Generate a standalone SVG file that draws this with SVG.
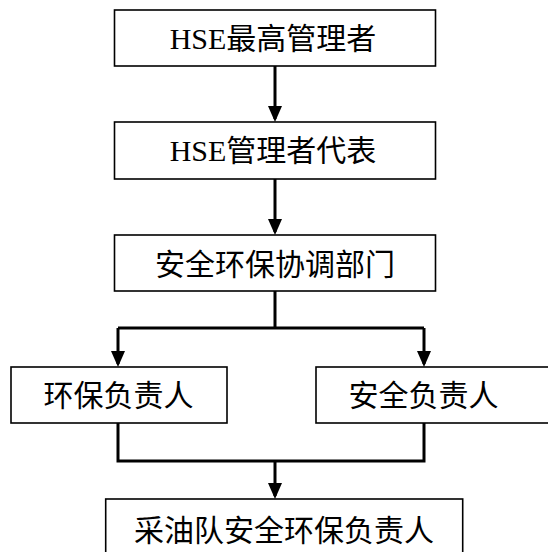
<svg xmlns="http://www.w3.org/2000/svg" width="548" height="552" viewBox="0 0 548 552">
<style>
.box{fill:#fff;stroke:#000;stroke-width:1.6}
.lbl{font-family:"Liberation Serif","Noto Sans CJK SC",serif;font-size:30px;fill:#000;text-anchor:middle}
.con{fill:none;stroke:#000;stroke-width:3}
.arr{marker-end:url(#ah)}
</style>
<defs>
<marker id="ah" markerUnits="userSpaceOnUse" markerWidth="16" markerHeight="16" refX="13" refY="8" orient="auto" viewBox="0 0 16 16">
<path d="M0,1 L16,8 L0,15 Z" fill="#000"/>
</marker>
</defs>
<rect width="548" height="552" fill="#fff"/>
<g id="connectors">
<path class="con arr" d="M275,66 V119"/>
<path class="con arr" d="M275,179 V232"/>
<path class="con" d="M275,291 V328 M118,328 H424"/>
<path class="con arr" d="M118,328 V364"/>
<path class="con arr" d="M424,328 V364"/>
<path class="con" d="M118,423 V461 H424 V423"/>
<path class="con arr" d="M275,461 V496"/>
</g>
<g id="n1"><rect class="box" x="114.5" y="10" width="321" height="56"/><text class="lbl" x="273" y="49">HSE最高管理者</text></g>
<g id="n2"><rect class="box" x="114.5" y="122" width="321" height="57"/><text class="lbl" x="273" y="161">HSE管理者代表</text></g>
<g id="n3"><rect class="box" x="114.5" y="235" width="321" height="56"/><text class="lbl" x="275" y="275">安全环保协调部门</text></g>
<g id="n4"><rect class="box" x="11" y="367" width="216" height="56"/><text class="lbl" x="118.5" y="406">环保负责人</text></g>
<g id="n5"><rect class="box" x="316" y="367" width="250" height="56"/><text class="lbl" x="423.5" y="406">安全负责人</text></g>
<g id="n6"><rect class="box" x="105.7" y="499" width="357" height="70"/><text class="lbl" x="284" y="541">采油队安全环保负责人</text></g>
</svg>
